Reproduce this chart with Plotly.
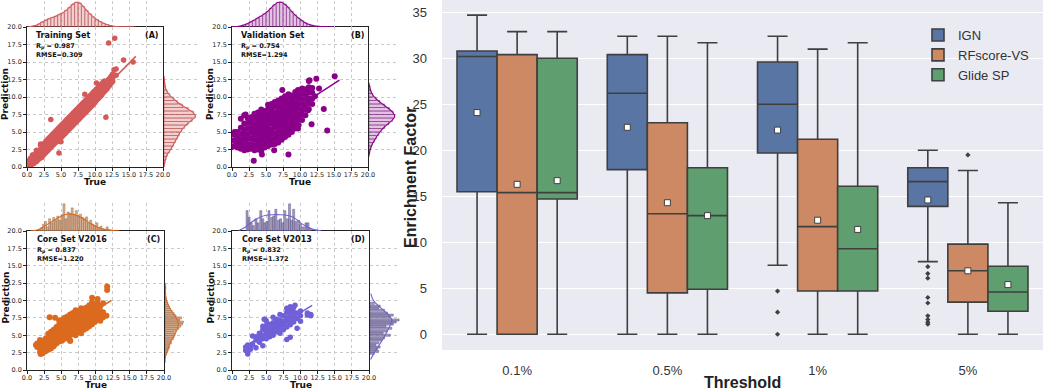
import plotly.graph_objects as go

W, H = 1044, 390

# ================= Box plot data (Enrichment Factor) =================
thresholds = ['0.1%', '0.5%', '1%', '5%']
methods = ['IGN', 'RFscore-VS', 'Glide SP']

ign_q1 = [15.5, 17.9, 19.7, 13.9]
ign_med = [30.2, 26.2, 25.0, 16.6]
ign_q3 = [30.8, 30.4, 29.6, 18.1]
ign_lo = [0.0, 0.0, 7.5, 7.9]
ign_hi = [34.7, 32.4, 32.4, 20.0]
ign_mean = [24.1, 22.5, 22.2, 14.6]

rf_q1 = [0.0, 4.5, 4.7, 3.5]
rf_med = [15.4, 13.1, 11.7, 6.9]
rf_q3 = [30.4, 23.0, 21.2, 9.8]
rf_lo = [0.0, 0.0, 0.0, 0.0]
rf_hi = [32.9, 32.4, 31.0, 17.8]
rf_mean = [16.3, 14.3, 12.4, 6.9]

glide_q1 = [14.7, 4.9, 4.7, 2.5]
glide_med = [15.4, 12.9, 9.3, 4.6]
glide_q3 = [30.0, 18.1, 16.1, 7.4]
glide_lo = [0.0, 0.0, 0.0, 0.0]
glide_hi = [32.9, 31.7, 31.7, 14.3]
glide_mean = [16.7, 12.9, 11.4, 5.4]

# outliers: (threshold index, values)
ign_outliers = [(2, [4.7, 2.4, 0.0]), (3, [7.35, 6.6, 6.1, 4.0, 3.4, 2.0, 1.6, 1.3, 1.1])]
rf_outliers = [(3, [19.5])]
glide_outliers = []

box_colors = ['#5975a4', '#cc8963', '#5f9e6e']
box_line = '#3f3f3f'

# ================= Scatter panels data =================
# (A) Training set : columns of (true value, [predictions])
train_cols = [
    (0.3, [0.3, 0.9]), (0.5, [0.6, 1.2]), (0.6, [0.2, 0.8, 1.3]), (0.8, [0.5, 1.1, 1.7]),
    (1.0, [0.5, 1.0, 1.6]), (1.2, [0.7, 1.3, 1.9]),
    (1.4, [0.8, 1.4, 2.0, 2.4]), (1.6, [1.0, 1.6, 2.2]), (1.8, [1.2, 1.8, 2.4]), (2.0, [1.3, 1.9, 2.5, 3.1]),
    (2.2, [1.4, 2.0, 2.5, 3.0]), (2.4, [1.7, 2.3, 2.8, 3.3]),
    (2.6, [1.9, 2.5, 3.0, 3.4]), (2.8, [2.1, 2.7, 3.2, 3.7]), (3.0, [2.3, 2.9, 3.4, 3.9]),
    (3.2, [2.5, 3.1, 3.6, 4.1]), (3.4, [2.7, 3.3, 3.8, 4.3]), (3.6, [2.9, 3.5, 4.0, 4.5]),
    (3.8, [3.1, 3.7, 4.2, 4.7]), (4.0, [3.3, 3.9, 4.4, 4.9]), (4.2, [3.5, 4.1, 4.6, 5.1]),
    (4.4, [3.6, 4.2, 4.8, 5.3]), (4.6, [3.8, 4.4, 5.0, 5.5]), (4.8, [4.0, 4.6, 5.2, 5.7]),
    (5.0, [4.2, 4.8, 5.4, 5.9]), (5.2, [4.4, 5.0, 5.6, 6.1]), (5.4, [4.6, 5.2, 5.8, 6.3]),
    (5.6, [4.8, 5.4, 6.0, 6.5]), (5.8, [5.0, 5.6, 6.2, 6.7]), (6.0, [5.2, 5.8, 6.4, 6.9]),
    (6.2, [5.4, 6.0, 6.6, 7.1]), (6.4, [5.6, 6.2, 6.8, 7.3]), (6.6, [5.8, 6.4, 7.0, 7.5]),
    (6.8, [6.0, 6.6, 7.2, 7.7]), (7.0, [6.2, 6.8, 7.4, 7.9]), (7.2, [6.4, 7.0, 7.6, 8.1]),
    (7.4, [6.6, 7.2, 7.8, 8.3]), (7.6, [6.8, 7.4, 8.0, 8.5]), (7.8, [7.0, 7.6, 8.2, 8.7]),
    (8.0, [7.2, 7.8, 8.4, 8.9]), (8.2, [7.4, 8.0, 8.6, 9.1]), (8.4, [7.6, 8.2, 8.8, 9.3]),
    (8.6, [7.8, 8.4, 9.0, 9.5]), (8.8, [8.0, 8.6, 9.2, 9.7]), (9.0, [8.2, 8.8, 9.4, 9.9]),
    (9.2, [8.4, 9.0, 9.6, 10.1]), (9.4, [8.6, 9.2, 9.8, 10.3]), (9.6, [8.8, 9.4, 10.0, 10.5]),
    (9.8, [9.0, 9.6, 10.2, 10.7]), (10.0, [9.2, 9.8, 10.4, 10.9]), (10.2, [9.5, 10.1, 10.6, 11.1]),
    (10.4, [9.7, 10.3, 10.8, 11.3]), (10.6, [9.9, 10.5, 11.0, 11.5]), (10.8, [10.1, 10.7, 11.2, 11.7]),
    (11.0, [10.3, 10.9, 11.4, 11.9]), (11.2, [10.6, 11.1, 11.6, 12.1]), (11.4, [10.8, 11.3, 11.8, 12.3]),
    (11.6, [11.0, 11.5, 12.0]), (11.8, [11.2, 11.7, 12.2]), (12.0, [11.5, 12.0, 12.5]),
    (12.2, [11.7, 12.2, 12.7]), (12.4, [12.0, 12.5, 13.0]), (12.6, [12.2, 12.7, 13.3]),
]
train_extra = [(12.9, 18.4), (12.0, 17.7), (14.2, 15.3), (15.6, 15.0), (13.1, 14.0), (13.1, 13.1),
               (12.8, 13.9), (3.5, 6.8), (11.6, 7.1), (4.7, 2.0), (10.2, 12.0), (8.5, 10.4),
               (2.0, 3.3), (5.0, 3.6)]
train_fit_x = [0.2, 16.0]
train_fit_y = [0.3, 15.8]
train_top_bins = [0.25, 0.75, 1.25, 1.75, 2.25, 2.75, 3.25, 3.75, 4.25, 4.75, 5.25, 5.75, 6.25, 6.75,
                  7.25, 7.75, 8.25, 8.75, 9.25, 9.75, 10.25, 10.75, 11.25, 11.75, 12.25, 12.75,
                  13.25, 13.75, 14.25, 14.75, 15.25, 15.75]
train_top_h = [0.01, 0.03, 0.06, 0.12, 0.2, 0.27, 0.33, 0.38, 0.43, 0.5, 0.56, 0.66, 0.78, 0.9,
               0.98, 0.95, 0.82, 0.66, 0.52, 0.4, 0.3, 0.22, 0.15, 0.1, 0.06, 0.03,
               0.015, 0.01, 0.005, 0.003, 0.002, 0.001]
train_right_bins = [0.25, 0.75, 1.25, 1.75, 2.25, 2.75, 3.25, 3.75, 4.25, 4.75, 5.25, 5.75, 6.25,
                    6.75, 7.25, 7.75, 8.25, 8.75, 9.25, 9.75, 10.25, 10.75, 11.25, 11.75, 12.25, 12.75]
train_right_h = [0.01, 0.03, 0.06, 0.1, 0.17, 0.24, 0.3, 0.36, 0.42, 0.48, 0.55, 0.64, 0.75,
                 0.88, 0.98, 0.92, 0.76, 0.58, 0.42, 0.3, 0.18, 0.1, 0.05, 0.03, 0.015, 0.005]

# (B) Validation set
valid_cols = [
    (0.3, [3.0, 3.8, 4.6]), (0.8, [2.8, 3.5, 4.3, 5.0]), (1.3, [2.6, 3.3, 4.0, 4.8, 5.6, 6.9]),
    (1.8, [2.4, 3.1, 3.9, 4.6, 5.4, 6.2, 7.4]), (2.3, [2.5, 3.2, 4.0, 4.7, 5.5, 6.3, 7.0]),
    (2.8, [2.6, 3.3, 4.1, 4.9, 5.6, 6.4, 7.1]), (3.3, [2.4, 3.1, 3.9, 4.6, 5.4, 6.1, 6.9, 7.6]),
    (3.8, [2.5, 3.3, 4.0, 4.8, 5.5, 6.3, 7.0, 7.8]), (4.3, [2.3, 3.0, 3.8, 4.5, 5.3, 6.0, 6.8, 7.5, 8.2]),
    (4.8, [2.8, 3.5, 4.3, 5.0, 5.8, 6.5, 7.3, 8.0]), (5.3, [3.0, 3.8, 4.5, 5.3, 6.0, 6.8, 7.5, 8.3, 8.9]),
    (5.8, [3.2, 3.9, 4.7, 5.4, 6.2, 6.9, 7.7, 8.4, 9.0]), (6.3, [3.3, 4.1, 4.8, 5.6, 6.3, 7.1, 7.8, 8.6, 9.3]),
    (6.8, [3.5, 4.3, 5.0, 5.8, 6.5, 7.3, 8.0, 8.8, 9.5]), (7.3, [3.9, 4.6, 5.4, 6.1, 6.9, 7.6, 8.4, 9.1, 9.8]),
    (7.8, [4.3, 5.0, 5.8, 6.5, 7.3, 8.0, 8.8, 9.5, 10.1]), (8.3, [4.6, 5.4, 6.1, 6.9, 7.6, 8.4, 9.1, 9.9, 10.4]),
    (8.8, [5.0, 5.8, 6.5, 7.3, 8.0, 8.8, 9.5, 10.2]), (9.3, [5.5, 6.2, 7.0, 7.7, 8.5, 9.2, 10.0, 10.7]),
    (9.8, [6.0, 6.8, 7.5, 8.3, 9.0, 9.8, 10.5]), (10.3, [6.7, 7.5, 8.2, 9.0, 9.7, 10.5, 11.2]),
    (10.8, [7.4, 8.2, 8.9, 9.7, 10.4, 11.1]), (11.3, [8.3, 9.1, 9.8, 10.6, 11.4, 12.3]),
    (11.8, [9.0, 9.8, 10.6, 11.3]),
]
valid_extra = [(15.1, 12.95), (12.4, 12.6), (11.4, 12.4), (9.7, 11.0), (7.4, 11.0), (13.5, 8.3),
               (11.2, 8.1), (14.0, 5.2), (11.7, 6.1), (9.7, 5.5), (7.35, 4.1), (8.3, 1.8), (3.2, 0.9),
               (4.4, 1.8), (2.0, 7.5), (0.4, 5.0), (12.2, 10.1), (12.8, 11.2), (6.2, 2.4)]
valid_fit_x = [0.0, 15.8]
valid_fit_y = [2.5, 12.4]
valid_top_bins = [0.25, 0.75, 1.25, 1.75, 2.25, 2.75, 3.25, 3.75, 4.25, 4.75, 5.25, 5.75, 6.25, 6.75,
                  7.25, 7.75, 8.25, 8.75, 9.25, 9.75, 10.25, 10.75, 11.25, 11.75, 12.25, 12.75,
                  13.25, 13.75, 14.25, 14.75]
valid_top_h = [0.01, 0.02, 0.04, 0.08, 0.13, 0.2, 0.27, 0.35, 0.43, 0.52, 0.62, 0.75, 0.88, 0.97,
               0.98, 0.9, 0.78, 0.62, 0.48, 0.36, 0.26, 0.17, 0.11, 0.07, 0.04, 0.025,
               0.015, 0.01, 0.005, 0.003]
valid_right_bins = [1.75, 2.25, 2.75, 3.25, 3.75, 4.25, 4.75, 5.25, 5.75, 6.25, 6.75, 7.25, 7.75,
                    8.25, 8.75, 9.25, 9.75, 10.25, 10.75, 11.25, 11.75]
valid_right_h = [0.01, 0.03, 0.07, 0.12, 0.2, 0.28, 0.37, 0.47, 0.6, 0.75, 0.9, 0.98, 0.92,
                 0.78, 0.6, 0.42, 0.27, 0.15, 0.08, 0.04, 0.02]

# (C) Core set V2016
c16_cols = [
    (1.5, [3.3, 3.8]), (1.9, [2.6, 3.2, 3.8, 4.3]), (2.3, [2.4, 2.9, 3.5, 4.1]),
    (2.7, [2.7, 3.3, 3.9, 4.5]), (3.1, [2.9, 3.5, 4.1, 4.7, 5.2]), (3.5, [3.1, 3.7, 4.3, 4.9, 5.5]),
    (3.9, [3.4, 4.0, 4.6, 5.2, 5.8]), (4.3, [3.8, 4.4, 5.0, 5.6, 6.2]),
    (4.7, [4.1, 4.7, 5.3, 5.9, 6.5, 7.1]), (5.1, [4.2, 4.8, 5.4, 6.0, 6.6, 7.2]),
    (5.5, [4.5, 5.1, 5.7, 6.3, 6.9, 7.5]), (5.9, [4.7, 5.3, 5.9, 6.5, 7.1, 7.7]),
    (6.3, [4.2, 5.0, 5.6, 6.2, 6.8, 7.4, 8.0]), (6.7, [5.2, 5.8, 6.4, 7.0, 7.6, 8.2]),
    (7.1, [5.0, 5.6, 6.2, 6.8, 7.4, 8.0, 8.6]), (7.5, [5.5, 6.1, 6.7, 7.3, 7.9, 8.5]),
    (7.9, [5.3, 5.9, 6.5, 7.1, 7.7, 8.3, 8.9]), (8.3, [5.8, 6.4, 7.0, 7.6, 8.2, 8.8]),
    (8.7, [6.0, 6.6, 7.2, 7.8, 8.4, 9.0]), (9.1, [6.3, 6.9, 7.5, 8.1, 8.7, 9.3]),
    (9.5, [6.6, 7.2, 7.8, 8.4, 9.0, 9.7, 10.4]), (9.9, [6.9, 7.5, 8.1, 8.7, 9.3]),
    (10.3, [7.2, 7.8, 8.4, 9.0, 9.6, 10.2]), (10.7, [7.1, 7.8, 8.5, 9.2]),
    (11.1, [7.6, 8.3, 9.6]), (11.7, [11.5, 12.0]),
]
c16_extra = [(4.1, 7.5), (3.3, 7.6), (6.3, 4.2), (2.0, 2.3), (11.6, 7.8), (1.3, 3.6)]
c16_fit_x = [1.5, 12.3]
c16_fit_y = [3.4, 10.0]
c16_top_bins = [1.8, 2.1, 2.4, 2.7, 3.0, 3.3, 3.6, 3.9, 4.2, 4.5, 4.8, 5.1, 5.4, 5.7, 6.0, 6.3, 6.6,
                6.9, 7.2, 7.5, 7.8, 8.1, 8.4, 8.7, 9.0, 9.3, 9.6, 9.9, 10.2, 10.5, 10.8, 11.1,
                11.4, 11.7, 12.0, 12.3]
c16_top_h = [0.05, 0.12, 0.25, 0.35, 0.15, 0.45, 0.3, 0.5, 0.38, 0.55, 0.4, 0.6, 1.0, 0.45, 0.7,
             0.65, 0.85, 0.6, 0.75, 0.55, 0.62, 0.5, 0.45, 0.52, 0.3, 0.4, 0.25, 0.2, 0.3, 0.12,
             0.18, 0.08, 0.05, 0.15, 0.05, 0.03]
c16_top_kde_x = [0.5, 1.5, 2.5, 3.5, 4.5, 5.5, 6.5, 7.5, 8.5, 9.5, 10.5, 11.5, 12.5, 13.5]
c16_top_kde_y = [0.0, 0.04, 0.17, 0.33, 0.48, 0.6, 0.62, 0.55, 0.4, 0.25, 0.12, 0.05, 0.02, 0.0]
c16_right_bins = [2.1, 2.4, 2.7, 3.0, 3.3, 3.6, 3.9, 4.2, 4.5, 4.8, 5.1, 5.4, 5.7, 6.0, 6.3, 6.6,
                  6.9, 7.2, 7.5, 7.8, 8.1, 8.4, 8.7, 9.0, 9.3, 9.6, 9.9, 10.2, 10.5, 11.7, 12.0]
c16_right_h = [0.05, 0.1, 0.15, 0.2, 0.25, 0.2, 0.35, 0.3, 0.45, 0.5, 0.55, 0.5, 0.6, 0.75, 0.85,
               0.95, 1.0, 0.8, 0.9, 0.6, 0.5, 0.4, 0.3, 0.25, 0.2, 0.15, 0.1, 0.07, 0.04, 0.05, 0.05]
c16_right_kde_y = [1.0, 2.0, 3.0, 4.0, 5.0, 6.0, 6.7, 7.5, 8.5, 9.5, 10.5, 11.5, 12.5]
c16_right_kde_x = [0.0, 0.03, 0.15, 0.3, 0.5, 0.68, 0.72, 0.6, 0.35, 0.15, 0.05, 0.02, 0.01]

# (D) Core set V2013
c13_cols = [
    (2.0, [2.8, 3.3]), (2.3, [2.3, 2.7, 3.1, 3.6]), (2.7, [3.0, 3.4]), (3.0, [3.7, 4.9]),
    (3.5, [3.2, 4.3, 4.8]), (4.0, [4.0, 4.6, 5.3]), (4.8, [7.3]),
    (4.5, [3.5, 4.5, 5.0, 5.8, 6.3]), (5.0, [4.5, 5.2, 5.8, 6.4, 7.1]), (5.5, [4.8, 5.5, 6.0, 6.6]),
    (6.0, [5.0, 5.7, 6.3, 6.8, 7.6]), (6.5, [5.5, 6.2, 6.7, 7.3]), (7.0, [5.3, 6.0, 6.6, 7.2, 8.0]),
    (7.5, [5.8, 6.5, 7.0, 7.8]), (8.0, [4.4, 6.2, 6.9, 7.5, 8.3, 8.9]),
    (8.5, [4.7, 6.5, 7.2, 7.8, 8.5, 9.1]), (9.0, [6.9, 7.6, 8.3, 9.0]), (9.5, [6.0, 7.4, 8.2]),
    (10.0, [7.0, 7.8, 8.5]), (11.0, [7.9, 8.2]), (11.5, [7.8, 8.0]),
]
c13_extra = [(8.9, 9.0), (9.2, 9.3), (4.7, 7.3)]
c13_fit_x = [1.7, 11.7]
c13_fit_y = [3.3, 9.3]
c13_top_bins = [2.2, 2.5, 2.8, 3.1, 3.5, 3.8, 4.2, 4.5, 4.8, 5.1, 5.4, 5.8, 6.1, 6.4, 6.8, 7.1, 7.4,
                7.7, 8.1, 8.4, 8.7, 9.0, 9.3, 9.7, 10.0, 10.4, 10.8, 11.1, 11.4]
c13_top_h = [0.75, 0.5, 0.3, 0.2, 0.45, 0.3, 0.75, 0.45, 0.3, 0.35, 0.75, 0.5, 0.55, 0.8, 0.4,
             0.45, 0.3, 0.75, 0.45, 1.0, 0.4, 0.8, 0.35, 0.4, 0.25, 0.15, 0.3, 0.3, 0.1]
c13_top_kde_x = [1.0, 2.0, 3.0, 4.0, 5.0, 6.0, 7.0, 8.0, 9.0, 10.0, 11.0, 12.0, 13.0]
c13_top_kde_y = [0.02, 0.15, 0.35, 0.5, 0.58, 0.6, 0.6, 0.58, 0.5, 0.3, 0.15, 0.05, 0.01]
c13_right_bins = [2.4, 2.7, 3.0, 3.3, 3.6, 3.9, 4.3, 4.6, 5.0, 5.3, 5.6, 6.0, 6.3, 6.6, 6.9, 7.2,
                  7.6, 7.9, 8.2, 8.6, 8.9, 9.2, 9.6]
c13_right_h = [0.15, 0.3, 0.25, 0.35, 0.2, 0.3, 0.4, 0.5, 0.7, 0.45, 0.6, 0.75, 0.55, 0.8, 0.9,
               1.0, 0.7, 0.8, 0.6, 0.5, 0.3, 0.35, 0.15]
c13_right_kde_y = [1.5, 2.5, 3.5, 4.5, 5.5, 6.5, 7.2, 8.0, 9.0, 10.0, 11.0]
c13_right_kde_x = [0.02, 0.15, 0.3, 0.45, 0.58, 0.7, 0.75, 0.62, 0.35, 0.12, 0.03]

axis_ticks = [0.0, 2.5, 5.0, 7.5, 10.0, 12.5, 15.0, 17.5, 20.0]


def flatten(cols, extra):
    xs, ys = [], []
    for x, preds in cols:
        for p in preds:
            xs.append(x)
            ys.append(p)
    for x, p in extra:
        xs.append(x)
        ys.append(p)
    return xs, ys


def px_x(a, b):
    return [a / W, b / W]


def px_y(top, bottom):
    return [1 - bottom / H, 1 - top / H]


panels = [
    dict(cols=train_cols, extra=train_extra, fx=train_fit_x, fy=train_fit_y,
         color='#d45a5a', fill='rgba(222,120,120,0.35)', edge='rgba(170,60,60,0.85)',
         top=(train_top_bins, train_top_h, 0.5), right=(train_right_bins, train_right_h, 0.5),
         topkde=(train_top_bins, train_top_h), rightkde=(train_right_h, train_right_bins),
         title='Training Set', tag='(A)', rp='0.987', rmse='0.309', ms=5.5,
         mx=(27, 163), my=(27, 167), ty=(1, 27), rx=(164, 197)),
    dict(cols=valid_cols, extra=valid_extra, fx=valid_fit_x, fy=valid_fit_y,
         color='#8b008b', fill='rgba(160,60,160,0.3)', edge='rgba(120,20,120,0.85)',
         top=(valid_top_bins, valid_top_h, 0.5), right=(valid_right_bins, valid_right_h, 0.5),
         topkde=(valid_top_bins, valid_top_h), rightkde=(valid_right_h, valid_right_bins),
         title='Validation Set', tag='(B)', rp='0.754', rmse='1.294', ms=6,
         mx=(232, 368), my=(27, 167), ty=(1, 27), rx=(369, 396)),
    dict(cols=c16_cols, extra=c16_extra, fx=c16_fit_x, fy=c16_fit_y,
         color='#dc6a1e', fill='rgba(200,150,110,0.75)', edge='rgba(140,90,60,0.8)',
         top=(c16_top_bins, c16_top_h, 0.3), right=(c16_right_bins, c16_right_h, 0.3),
         topkde=(c16_top_kde_x, c16_top_kde_y), rightkde=(c16_right_kde_x, c16_right_kde_y),
         title='Core Set V2016', tag='(C)', rp='0.837', rmse='1.220', ms=6,
         mx=(27, 164), my=(231, 370), ty=(203, 231), rx=(165, 184)),
    dict(cols=c13_cols, extra=c13_extra, fx=c13_fit_x, fy=c13_fit_y,
         color='#7060d8', fill='rgba(130,120,170,0.75)', edge='rgba(80,70,120,0.8)',
         top=(c13_top_bins, c13_top_h, 0.3), right=(c13_right_bins, c13_right_h, 0.3),
         topkde=(c13_top_kde_x, c13_top_kde_y), rightkde=(c13_right_kde_x, c13_right_kde_y),
         title='Core Set V2013', tag='(D)', rp='0.832', rmse='1.372', ms=5.5,
         mx=(232, 369), my=(231, 370), ty=(203, 231), rx=(370, 400)),
]

fig = go.Figure()
layout = {}
annotations = []
small_font = dict(family='DejaVu Sans', size=6.5, color='#222222')


def aid(letter, n):
    return letter if n == 1 else f'{letter}{n}'


def lname(letter, n):
    return f'{letter}axis' if n == 1 else f'{letter}axis{n}'


for k, p in enumerate(panels):
    nm = 2 * k + 1   # main axes
    nh = 2 * k + 2   # marginal axes (top uses y, right uses x)
    mx, my = aid('x', nm), aid('y', nm)
    rxid, tyid = aid('x', nh), aid('y', nh)

    common = dict(range=[0, 20], tickvals=axis_ticks, tickformat='.1f', showgrid=True,
                  gridcolor='#c9c9c9', griddash='dot', gridwidth=0.8, showline=True, mirror=True,
                  linecolor='#222222', linewidth=0.8, ticks='outside', ticklen=3, tickwidth=0.8,
                  tickcolor='#222222', tickfont=small_font, zeroline=False, automargin=False)
    layout[lname('x', nm)] = dict(domain=px_x(*p['mx']), anchor=my, ticklabelstandoff=-2, **common)
    layout[lname('y', nm)] = dict(domain=px_y(*p['my']), anchor=mx, **common)
    layout[lname('y', nh)] = dict(domain=px_y(*p['ty']), anchor=mx, range=[0, 1.03], visible=False,
                                  automargin=False)
    layout[lname('x', nh)] = dict(domain=px_x(*p['rx']), anchor=my, range=[0, 1.03], visible=False,
                                  automargin=False)

    xs, ys = flatten(p['cols'], p['extra'])
    fig.add_trace(go.Scatter(x=xs, y=ys, mode='markers', xaxis=mx, yaxis=my, showlegend=False,
                             marker=dict(color=p['color'], size=p['ms'], line=dict(width=0))))
    fig.add_trace(go.Scatter(x=p['fx'], y=p['fy'], mode='lines', xaxis=mx, yaxis=my, showlegend=False,
                             line=dict(color=p['color'], width=1.5)))
    tb, th, tw = p['top']
    fig.add_trace(go.Bar(x=tb, y=th, width=tw, xaxis=mx, yaxis=tyid, showlegend=False,
                         marker=dict(color=p['fill'], line=dict(color=p['edge'], width=0.5))))
    rb, rh, rw = p['right']
    fig.add_trace(go.Bar(y=rb, x=rh, width=rw, orientation='h', xaxis=rxid, yaxis=my, showlegend=False,
                         marker=dict(color=p['fill'], line=dict(color=p['edge'], width=0.5))))
    kx, ky = p['topkde']
    fig.add_trace(go.Scatter(x=kx, y=ky, mode='lines', line=dict(color=p['color'], width=1.1, shape='spline'),
                             xaxis=mx, yaxis=tyid, showlegend=False))
    kx, ky = p['rightkde']
    fig.add_trace(go.Scatter(x=kx, y=ky, mode='lines', line=dict(color=p['color'], width=1.1, shape='spline'),
                             xaxis=rxid, yaxis=my, showlegend=False))

    # texts inside panel
    annotations.append(dict(x=1.1, y=19.75, xref=mx, yref=my, text='<b>' + p['title'] + '</b>',
                            showarrow=False, xanchor='left', yanchor='top',
                            font=dict(family='DejaVu Sans', size=8, color='#111111')))
    annotations.append(dict(x=19.7, y=19.75, xref=mx, yref=my, text='<b>' + p['tag'] + '</b>',
                            showarrow=False, xanchor='right', yanchor='top',
                            font=dict(family='DejaVu Sans', size=8, color='#111111')))
    annotations.append(dict(x=1.1, y=18.15, xref=mx, yref=my, text='<b>R<sub>p</sub> = ' + p['rp'] + '</b>',
                            showarrow=False, xanchor='left', yanchor='top',
                            font=dict(family='DejaVu Sans', size=6.5, color='#111111')))
    annotations.append(dict(x=1.1, y=16.9, xref=mx, yref=my, text='<b>RMSE=' + p['rmse'] + '</b>',
                            showarrow=False, xanchor='left', yanchor='top',
                            font=dict(family='DejaVu Sans', size=6.5, color='#111111')))
    # axis titles
    cx = (p['mx'][0] + p['mx'][1]) / 2
    cy = (p['my'][0] + p['my'][1]) / 2
    annotations.append(dict(x=cx / W, y=1 - (p['my'][1] + 14.5) / H, xref='paper', yref='paper',
                            text='<b>True</b>', showarrow=False, xanchor='center', yanchor='middle',
                            font=dict(family='DejaVu Sans', size=9, color='#111111')))
    annotations.append(dict(x=(p['mx'][0] - 22) / W, y=1 - (cy - 3) / H, xref='paper', yref='paper',
                            text='<b>Prediction</b>', showarrow=False, textangle=-90,
                            xanchor='center', yanchor='middle',
                            font=dict(family='DejaVu Sans', size=9, color='#111111')))

# ================= Box plot =================
bx, by = 'x9', 'y9'
box_width = 0.8 / 3
offsets = [-box_width, 0.0, box_width]
stats = [
    (ign_q1, ign_med, ign_q3, ign_lo, ign_hi, ign_mean, ign_outliers),
    (rf_q1, rf_med, rf_q3, rf_lo, rf_hi, rf_mean, rf_outliers),
    (glide_q1, glide_med, glide_q3, glide_lo, glide_hi, glide_mean, glide_outliers),
]
for m, (q1, med, q3, lo, hi, mean, outl) in enumerate(stats):
    pos = [i + offsets[m] for i in range(len(thresholds))]
    fig.add_trace(go.Box(x=pos, q1=q1, median=med, q3=q3, lowerfence=lo, upperfence=hi,
                         width=box_width, name=methods[m], fillcolor=box_colors[m],
                         line=dict(color=box_line, width=1.6), whiskerwidth=0.5,
                         boxpoints=False, xaxis=bx, yaxis=by, showlegend=True))
    fig.add_trace(go.Scatter(x=pos, y=mean, mode='markers', xaxis=bx, yaxis=by, showlegend=False,
                             marker=dict(symbol='square', size=6, color='white',
                                         line=dict(color=box_line, width=1))))
    ox, oy = [], []
    for idx, vals in outl:
        for v in vals:
            ox.append(idx + offsets[m])
            oy.append(v)
    if ox:
        fig.add_trace(go.Scatter(x=ox, y=oy, mode='markers', xaxis=bx, yaxis=by, showlegend=False,
                                 marker=dict(symbol='diamond', size=4, color=box_line)))

layout['xaxis9'] = dict(domain=px_x(442, 1043), anchor=by, range=[-0.5, 3.5],
                        tickvals=list(range(len(thresholds))), ticktext=thresholds,
                        showgrid=False, zeroline=False, showline=False, ticks='',
                        ticklabelstandoff=11, automargin=False,
                        tickfont=dict(family='Liberation Sans', size=13, color='#333333'))
layout['yaxis9'] = dict(domain=px_y(0, 350), anchor=bx, range=[-1.71, 36.34],
                        tickvals=[0, 5, 10, 15, 20, 25, 30, 35], showgrid=True,
                        gridcolor='white', gridwidth=1.3, zeroline=False, showline=False, ticks='',
                        ticklabelstandoff=14, automargin=False,
                        tickfont=dict(family='Liberation Sans', size=13, color='#333333'))

annotations.append(dict(x=742 / W, y=1 - 382 / H, xref='paper', yref='paper', text='<b>Threshold</b>',
                        showarrow=False, xanchor='center', yanchor='middle',
                        font=dict(family='Liberation Sans', size=16, color='#222222')))
annotations.append(dict(x=411 / W, y=1 - 178 / H, xref='paper', yref='paper',
                        text='<b>Enrichment Factor</b>', showarrow=False, textangle=-90,
                        xanchor='center', yanchor='middle',
                        font=dict(family='Liberation Sans', size=16, color='#222222')))

fig.update_layout(
    width=W, height=H, autosize=False,
    margin=dict(l=0, r=0, t=0, b=0, pad=0, autoexpand=False),
    paper_bgcolor='white', plot_bgcolor='rgba(0,0,0,0)',
    boxmode='overlay', barmode='overlay',
    annotations=annotations,
    shapes=[dict(type='rect', xref='x9 domain', yref='y9 domain', x0=0, x1=1, y0=0, y1=1,
                 fillcolor='#EAEAF2', line=dict(width=0), layer='below')],
    legend=dict(x=918 / W, y=1 - 20 / H, xanchor='left', yanchor='top', bgcolor='rgba(0,0,0,0)',
                font=dict(family='Liberation Sans', size=13, color='#333333'), tracegroupgap=0),
    **layout,
)

fig.write_html('out.html', config={'displayModeBar': False},
               post_script="document.body.style.margin='0px';")
